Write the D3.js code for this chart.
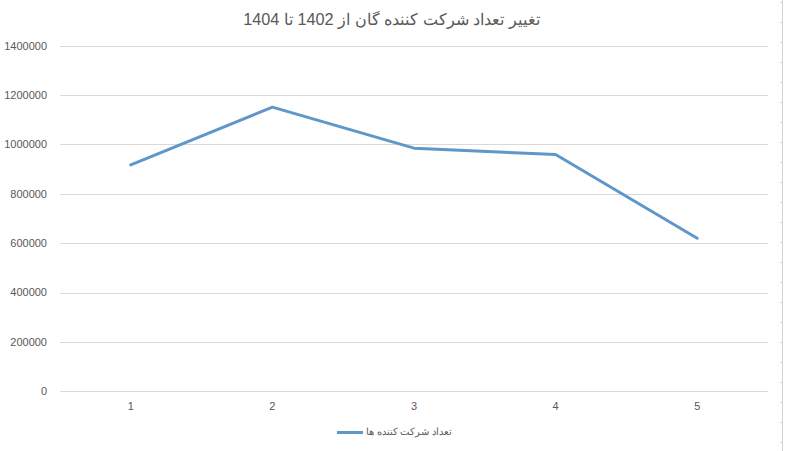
<!DOCTYPE html>
<html><head><meta charset="utf-8">
<script src="https://cdn.jsdelivr.net/npm/d3@7"></script>
<style>body{margin:0;background:#fff;}svg{display:block;font-family:"Liberation Sans",Arial,sans-serif;}</style>
</head><body>
<svg id="c" width="785" height="451"></svg>
<script>
const categories = ["1","2","3","4","5"];
const values = [917000, 1151000, 985000, 959000, 620000];
const yTicks = [0,200000,400000,600000,800000,1000000,1200000,1400000];
const seriesName = "تعداد شرکت کننده ها";
const title = "تغییر تعداد شرکت کننده گان از 1402 تا 1404";

const svg = d3.select("#c");
const mLeft = 60, mRight = 768, mTop = 45.7, mBottom = 391.3;
const x = d3.scaleBand().domain(categories).range([mLeft, mRight]);
const y = d3.scaleLinear().domain([0,1400000]).range([mBottom, mTop]);

// gridlines
svg.append("g").selectAll("line").data(yTicks).join("line")
  .attr("x1", mLeft).attr("x2", mRight)
  .attr("y1", d => Math.round(y(d))+0.5).attr("y2", d => Math.round(y(d))+0.5)
  .attr("stroke", "#d9d9d9").attr("stroke-width", 1);

// y labels
svg.append("g").selectAll("text").data(yTicks).join("text")
  .attr("x", 47).attr("y", d => y(d)).attr("dy", "0.35em")
  .attr("text-anchor", "end").attr("font-size", 11).attr("fill", "#595959")
  .text(d => d);

// x labels
svg.append("g").selectAll("text").data(categories).join("text")
  .attr("x", d => x(d) + x.bandwidth()/2).attr("y", 406).attr("dy", "0.35em")
  .attr("text-anchor", "middle").attr("font-size", 11).attr("fill", "#595959")
  .text(d => d);

// line
const line = d3.line().x((d,i) => x(categories[i]) + x.bandwidth()/2).y(d => y(d));
svg.append("path").datum(values).attr("d", line)
  .attr("fill", "none").attr("stroke", "#5f97c9").attr("stroke-width", 3)
  .attr("stroke-linejoin", "round").attr("stroke-linecap", "round");

// title
svg.append("text").attr("x", 391.5).attr("y", 19).attr("dy", "0.35em")
  .attr("text-anchor", "middle").attr("font-size", 16.3).attr("fill", "#595959")
  .attr("direction", "rtl").attr("unicode-bidi", "plaintext")
  .text(title);

// legend
svg.append("line").attr("x1", 337).attr("x2", 363).attr("y1", 432.5).attr("y2", 432.5)
  .attr("stroke", "#5f97c9").attr("stroke-width", 3);
svg.append("text").attr("x", 366).attr("y", 432).attr("dy", "0.35em")
  .attr("text-anchor", "start").attr("font-size", 9.6).attr("fill", "#595959")
  .text(seriesName);

// right edge line
svg.append("line").attr("x1", 782.5).attr("x2", 782.5).attr("y1", 0).attr("y2", 451)
  .attr("stroke", "#d4d4d4").attr("stroke-width", 1);
svg.append("g").selectAll("line").data(d3.range(2, 451, 20)).join("line")
  .attr("x1", 780).attr("x2", 782).attr("y1", d => d+0.5).attr("y2", d => d+0.5)
  .attr("stroke", "#d4d4d4");
</script>
</body></html>
